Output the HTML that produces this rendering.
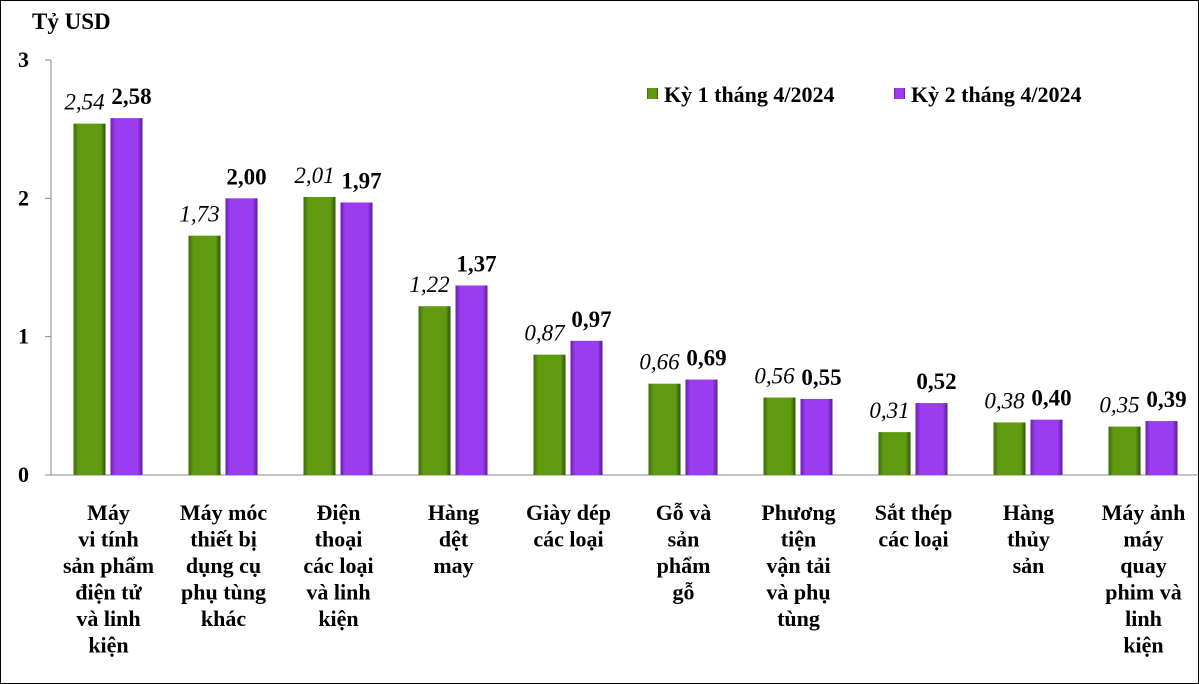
<!DOCTYPE html>
<html><head><meta charset="utf-8"><style>
body{margin:0;background:#fff;}
svg{display:block;font-family:"Liberation Serif",serif;}
text{font-family:"Liberation Serif",serif;}
</style></head><body>
<svg id="c" width="1199" height="684">
<defs>
<linearGradient id="gG" x1="0" x2="1"><stop offset="0" stop-color="#3d6a08"/><stop offset="0.15" stop-color="#5f9a10"/><stop offset="0.85" stop-color="#5f9a10"/><stop offset="1" stop-color="#2f5206"/></linearGradient>
<linearGradient id="gP" x1="0" x2="1"><stop offset="0" stop-color="#6a1fb0"/><stop offset="0.15" stop-color="#9a3cf0"/><stop offset="0.85" stop-color="#9a3cf0"/><stop offset="1" stop-color="#5a1a9a"/></linearGradient>
</defs>
<rect x="0.5" y="0.5" width="1198" height="683" fill="#fff" stroke="#000"/>
<text x="32" y="29" font-size="23" font-weight="bold">Tỷ USD</text>
<g id="plot"></g>
<g>
<rect x="647" y="88" width="11" height="11" fill="url(#gG)"/>
<text x="664" y="102" font-size="22" font-weight="bold">Kỳ 1 tháng 4/2024</text>
<rect x="894" y="88" width="11" height="11" fill="url(#gP)"/>
<text x="911" y="102" font-size="22" font-weight="bold">Kỳ 2 tháng 4/2024</text>
</g>
</svg>
<script>
const categories=[["Máy","vi tính","sản phẩm","điện tử","và linh","kiện"],["Máy móc","thiết bị","dụng cụ","phụ tùng","khác"],["Điện","thoại","các loại","và linh","kiện"],["Hàng","dệt","may"],["Giày dép","các loại"],["Gỗ và","sản","phẩm","gỗ"],["Phương","tiện","vận tải","và phụ","tùng"],["Sắt thép","các loại"],["Hàng","thủy","sản"],["Máy ảnh","máy","quay","phim và","linh","kiện"]];
const series1=[2.54,1.73,2.01,1.22,0.87,0.66,0.56,0.31,0.38,0.35];
const series2=[2.58,2.00,1.97,1.37,0.97,0.69,0.55,0.52,0.40,0.39];
const labels1=["2,54","1,73","2,01","1,22","0,87","0,66","0,56","0,31","0,38","0,35"];
const labels2=["2,58","2,00","1,97","1,37","0,97","0,69","0,55","0,52","0,40","0,39"];
const yTicks=[0,1,2,3];
const NS="http://www.w3.org/2000/svg";
const g=document.getElementById('plot');
const x0=51,step=115,yBase=475,yTop=60,yMax=3;
const y=v=>yBase-(v/yMax)*(yBase-yTop);
function mk(t,a,txt){const e=document.createElementNS(NS,t);for(const k in a)e.setAttribute(k,a[k]);if(txt!==undefined)e.textContent=txt;g.appendChild(e);return e;}
let ax=mk('line',{x1:x0,y1:yTop,x2:x0,y2:yBase,stroke:'#888'});


let bx=mk('line',{x1:x0,y1:yBase,x2:1199,y2:yBase,stroke:'#888'});


yTicks.forEach(t=>{
 let l=mk('line',{x1:x0-6,y1:y(t),x2:x0,y2:y(t),stroke:'#888'});
 
 
 let tx=mk('text',{x:29,y:y(t)+7,'font-size':22,'font-weight':'bold','text-anchor':'end'},String(t));
 
 
});
categories.forEach((c,i)=>{
 const cx=x0+step*i+step/2;
 const bw=32;
 [[series1,labels1,'url(#gG)',-bw-3,'italic','normal'],[series2,labels2,'url(#gP)',2,'normal','bold']].forEach((s,j)=>{
  const v=s[0][i],bx0=cx+s[3];
  let r=mk('rect',{x:bx0,y:y(v),width:bw,height:yBase-y(v),fill:s[2]});
  
  
  let t=mk('text',{x:bx0+bw/2+(j?5:-5),y:y(v)-14,'font-size':23,'font-style':s[4],'font-weight':s[5],'text-anchor':'middle'},s[1][i]);
  
  
 });
 c.forEach((line,k)=>{
  let t=mk('text',{x:cx,y:520+k*26.5,'font-size':22,'font-weight':'bold','text-anchor':'middle'},line);
  
  
 });
});
</script>
</body></html>
